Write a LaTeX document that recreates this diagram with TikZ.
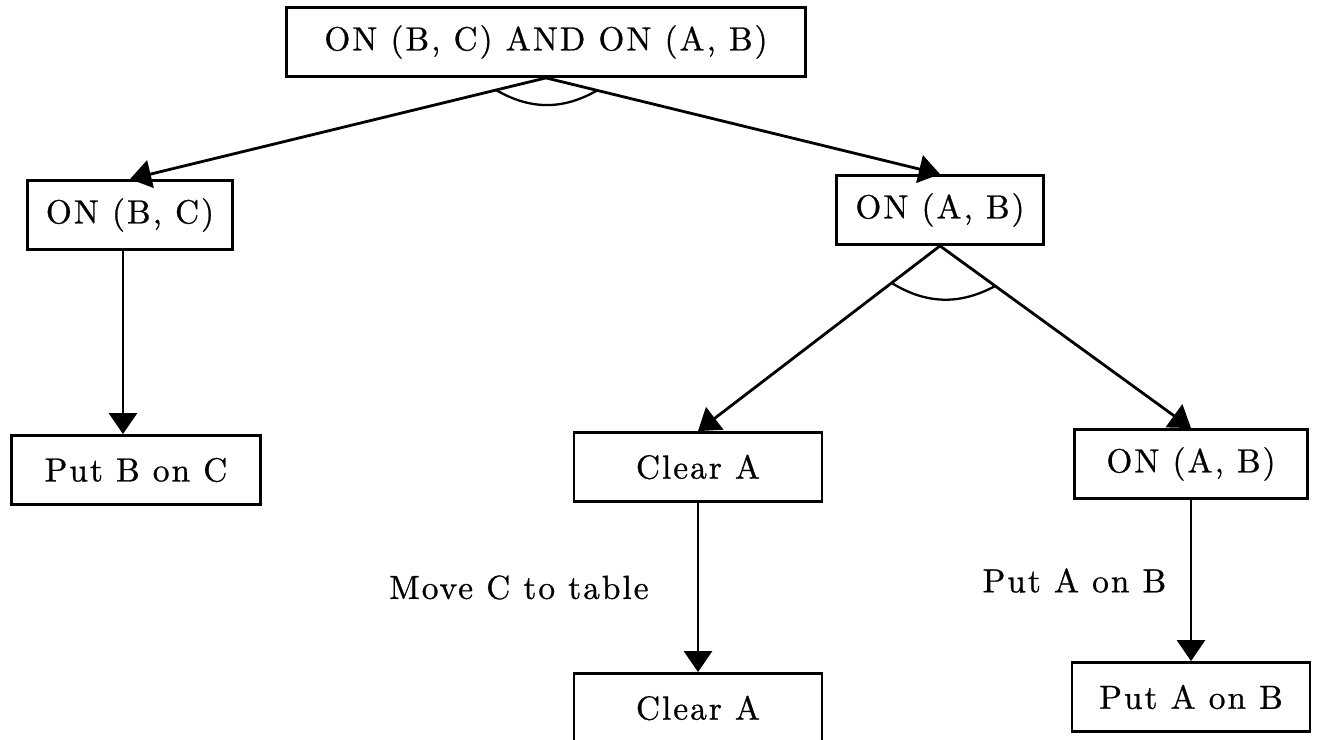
\documentclass[tikz,border=0pt]{standalone}
\usepackage{fontspec}
\setmainfont{lmroman10-regular.otf}[LetterSpace=6,FakeBold=0.8]
\usetikzlibrary{arrows.meta}

\begin{document}
\begin{tikzpicture}[x=0.02cm,y=-0.02cm,
    box/.style={draw,line width=1.6pt,minimum height=1.38cm,inner sep=0pt,font=\fontsize{19}{22}\selectfont},
    arr/.style={line width=1.6pt,-{Triangle[length=12pt,width=16pt]}},
    arcline/.style={line width=1.3pt},
    lbl/.style={font=\fontsize{19}{22}\selectfont}]
    \useasboundingbox (0,0) rectangle (1330,740);
    % 绘制节点
    \node[box,minimum width=10.38cm] (goal) at (546,42) {ON (B, C) AND ON (A, B)};
    \node[box,minimum width=4.1cm] (bc) at (130,215) {ON (B, C)};
    \node[box,minimum width=4.14cm] (ab) at (940,210) {ON (A, B)};
    \node[box,minimum width=4.98cm] (putbc) at (136,470) {Put B on C};
    \node[box,minimum width=4.96cm] (clear) at (698,467) {Clear A};
    \node[box,minimum width=4.66cm] (ab2) at (1191,464) {ON (A, B)};
    \node[box,minimum width=4.96cm] (clear2) at (698,708) {Clear A};
    \node[box,minimum width=4.76cm] (putab) at (1191,697) {Put A on B};

    % 绘制箭头
    \draw[arr] (goal.south) -- (bc.north);
    \draw[arr] (goal.south) -- (ab.north);
    \draw[arr] ([xshift=-4pt]bc.south) -- ([xshift=-4pt]bc.south |- putbc.north);
    \draw[arr] (ab.south) -- (clear.north);
    \draw[arr] (ab.south) -- (ab2.north);
    \draw[arr] (clear.south) -- (clear2.north) node[lbl,midway,left=24pt] {Move C to table};
    \draw[arr] (ab2.south) -- (putab.north) node[lbl,midway,left=10pt] {Put A on B};

    % AND 弧线
    \path (goal.south) -- (bc.north) coordinate[pos=0.12] (g1);
    \path (goal.south) -- (ab.north) coordinate[pos=0.13] (g2);
    \draw[arcline] (g1) to[bend right=30] (g2);
    \path (ab.south) -- (clear.north) coordinate[pos=0.2] (a1);
    \path (ab.south) -- (ab2.north) coordinate[pos=0.22] (a2);
    \draw[arcline] (a1) to[bend right=30] (a2);
\end{tikzpicture}
\end{document}
